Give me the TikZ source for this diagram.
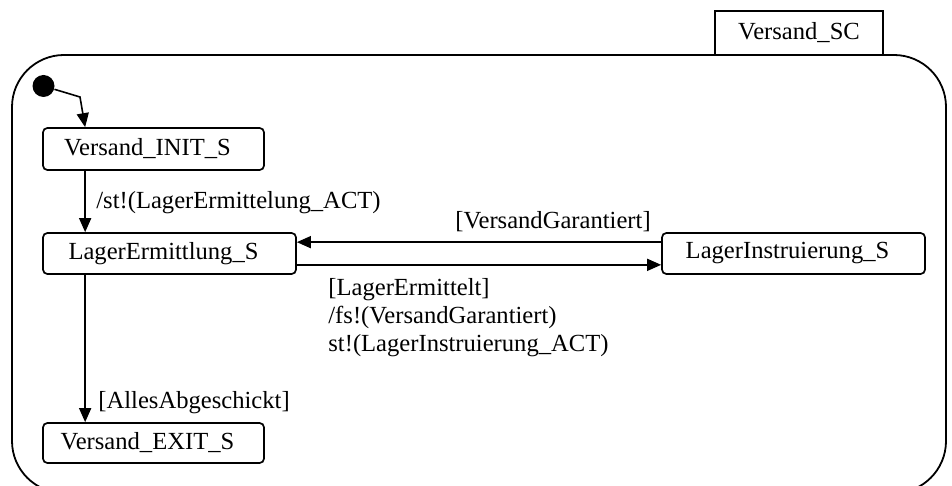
\documentclass[tikz,border=0pt]{standalone}
\usepackage{fontspec}
\setmainfont{Liberation Serif}
\usetikzlibrary{arrows.meta}
\begin{document}
\begin{tikzpicture}[x=0.5pt,y=-0.5pt,
  every node/.style={font=\fontsize{12.3}{14.5}\selectfont},
  stbox/.style={draw, line width=0.85pt, rounded corners=2.2pt, inner sep=0pt,
    execute at end node={\kern6pt}},
  arr/.style={line width=0.8pt, -{Triangle[length=7pt,width=6pt]}},
  lbl/.style={inner sep=0pt, anchor=west}]
  \useasboundingbox (0,0) rectangle (952,486);
  \clip (0,0) rectangle (952,486);

  % enclosing superstate frame and its name tab
  \draw[line width=0.9pt, rounded corners=26pt] (12,55) rectangle (946,493);
  \node[draw, line width=0.85pt, fill=white, minimum width=84pt, minimum height=22pt, inner sep=0pt]
    (sc) at (799,33) {Versand\_SC};

  % initial pseudostate
  \node[circle, fill=black, minimum size=11pt, inner sep=0pt] (init) at (43.5,86) {};
  \coordinate (bend) at (80,97);

  % states
  \node[stbox, minimum width=110.5pt, minimum height=21pt] (vinit) at (153.5,149) {Versand\_INIT\_S};
  \node[stbox, minimum width=126.5pt, minimum height=20.5pt] (le) at (169.5,253.5) {LagerErmittlung\_S};
  \node[stbox, minimum width=131.5pt, minimum height=20.5pt] (li) at (793.5,253.5) {LagerInstruierung\_S};
  \node[stbox, minimum width=110.5pt, minimum height=20pt] (vexit) at (153.5,443) {Versand\_EXIT\_S};

  % transitions
  \draw[arr] (init) -- (bend) -- ([xshift=21.5pt]vinit.north west);
  \draw[arr] ([xshift=21.5pt]vinit.south west) -- ([xshift=21.5pt]le.north west);
  \draw[arr] ([xshift=21.5pt]le.south west) -- ([xshift=21.5pt]vexit.north west);
  \draw[arr] ([yshift=-5pt]li.north west) -- ([yshift=-5pt]le.north east);
  \draw[arr] ([yshift=5pt]le.south east) -- ([yshift=5pt]li.south west);

  % transition labels
  \node[lbl] (l1) at (96,203) {/st!(LagerErmittelung\_ACT)};
  \node[inner sep=0pt] (l2) at (553,222) {[VersandGarantiert]};
  \node[inner sep=0pt, anchor=north west, align=left, font=\fontsize{12.3}{14}\selectfont]
    (l3) at (328,278) {[LagerErmittelt]\\/fs!(VersandGarantiert)\\st!(LagerInstruierung\_ACT)};
  \node[lbl] (l4) at (98,403) {[AllesAbgeschickt]};
\end{tikzpicture}
\end{document}
